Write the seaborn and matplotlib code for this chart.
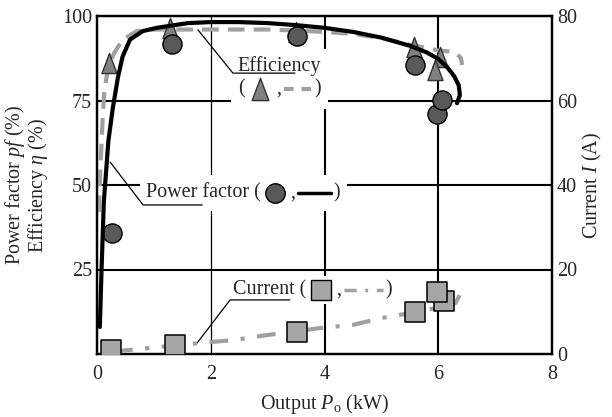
import matplotlib
matplotlib.use("Agg")
import matplotlib.pyplot as plt
import seaborn as sns
from matplotlib.path import Path
from matplotlib.lines import Line2D
from matplotlib.offsetbox import TextArea, DrawingArea, HPacker, VPacker, AnnotationBbox

# ---------------- data ----------------
# measured points
eff_x = [0.21, 1.28, 3.50, 5.57, 6.03, 5.94]
eff_y = [86.0, 96.4, 95.3, 90.8, 87.9, 84.0]
pf_x = [0.27, 1.32, 3.51, 5.59, 5.97, 6.06]
pf_y = [35.8, 91.7, 94.1, 85.5, 71.0, 75.1]
cur_x = [0.25, 1.37, 3.51, 5.59, 6.10, 5.97]
cur_y = [0.9, 2.1, 5.2, 9.9, 12.5, 14.7]

# calculated curves
pf_curve_x = [0.05, 0.08, 0.12, 0.2, 0.28, 0.37, 0.45, 0.58, 0.8, 1.05, 1.6, 2.0, 2.5,
              3.0, 3.5, 4.0, 4.5, 5.0, 5.5, 5.8, 6.0, 6.15, 6.28, 6.36, 6.38, 6.33]
pf_curve_y = [8, 25, 45, 63, 73, 82, 88, 93, 95.5, 96.5, 97.9, 98.2, 98.2,
              97.9, 97.3, 96.5, 95.3, 93.6, 91.2, 89.2, 87.3, 85.0, 82.2, 79.5, 76.6, 74.2]
eff_curve_x = [0.03, 0.06, 0.1, 0.13, 0.2, 0.3, 0.45, 0.7, 1.0, 1.5, 2.0, 3.0, 3.5, 4.0,
               4.5, 5.0, 5.5, 5.8, 6.0, 6.2, 6.33, 6.4, 6.42]
eff_curve_y = [42, 55, 70, 78, 85, 89, 93, 95.5, 96, 96, 96, 96, 95.7, 95.3,
               94.7, 93.5, 91.5, 90.5, 89.8, 89.5, 88.8, 87.5, 85.5]
cur_curve_x = [0.3, 0.9, 1.8, 2.4, 3.0, 3.9, 4.5, 5.0, 5.6, 6.0, 6.3, 6.36, 6.42]
cur_curve_y = [0.6, 1.4, 2.6, 3.3, 4.5, 6.1, 6.9, 8.5, 9.9, 11.0, 12.0, 13.5, 15.8]

x_ticks = [0, 2, 4, 6, 8]
left_ticks = [25, 50, 75, 100]
right_ticks = [0, 20, 40, 60, 80]

xlabel = "Output $P_\\mathrm{o}$ (kW)"
ylabel_left = "Power factor $pf$ (%)\nEfficiency $\\eta$ (%)"
ylabel_right = "Current $I$ (A)"

# ---------------- style ----------------
sns.set_style("white")
SERIF = ["Liberation Serif", "Times New Roman", "Nimbus Roman", "DejaVu Serif"]
plt.rcParams["font.family"] = "serif"
plt.rcParams["font.serif"] = SERIF
plt.rcParams["mathtext.fontset"] = "custom"
plt.rcParams["mathtext.rm"] = "Liberation Serif"
plt.rcParams["mathtext.it"] = "Liberation Serif:italic"
plt.rcParams["mathtext.bf"] = "Liberation Serif:bold"
FS = 14.5

C_DASH = "#a0a0a0"
C_TRI = "#808080"
C_CIRC = "#595959"
C_SQ = "#a6a6a6"

tri = Path([(0, 1), (-0.75, -1), (0.75, -1), (0, 1)],
           [Path.MOVETO, Path.LINETO, Path.LINETO, Path.CLOSEPOLY])

fig = plt.figure(figsize=(6.12, 4.17), dpi=100)
ax = fig.add_subplot(111)
fig.subplots_adjust(left=97 / 612, right=552 / 612, bottom=(417 - 354) / 417, top=(417 - 16) / 417)
ax2 = ax.twinx()

# curves
sns.lineplot(x=eff_curve_x, y=eff_curve_y, ax=ax, sort=False, estimator=None,
             color=C_DASH, linewidth=3.0, dashes=(4, 2.2), zorder=3)
sns.lineplot(x=pf_curve_x, y=pf_curve_y, ax=ax, sort=False, estimator=None,
             color="black", linewidth=3.0, zorder=6)
# markers
sns.scatterplot(x=eff_x, y=eff_y, ax=ax, marker=tri, s=210, color=C_TRI,
                edgecolor="#333333", linewidth=1.0, zorder=4)
sns.scatterplot(x=pf_x, y=pf_y, ax=ax, marker="o", s=190, color=C_CIRC,
                edgecolor="black", linewidth=1.0, zorder=5)

sns.lineplot(x=cur_curve_x, y=cur_curve_y, ax=ax2, sort=False, estimator=None,
             color=C_DASH, linewidth=3.0, dashes=(4.5, 3, 1, 3), zorder=3)
sns.scatterplot(x=cur_x, y=cur_y, ax=ax2, marker="s", s=195, color=C_SQ,
                edgecolor="black", linewidth=1.1, zorder=5)

# axes
ax.set_xlim(0, 8)
ax.set_ylim(0, 100)
ax2.set_ylim(0, 80)
ax.set_xticks(x_ticks)
ax.set_yticks(left_ticks)
ax2.set_yticks(right_ticks)
ax.set_xticklabels([str(t) for t in x_ticks], fontsize=FS, family=SERIF)
ax.set_yticklabels([str(t) for t in left_ticks], fontsize=FS, family=SERIF)
ax2.set_yticklabels([str(t) for t in right_ticks], fontsize=FS, family=SERIF)
ax.tick_params(axis="x", length=0, pad=8)
ax.tick_params(axis="y", length=0, pad=3.5)
ax2.tick_params(axis="y", length=0, pad=3.5)

ax.set_axisbelow(True)
ax.grid(True, color="black", linewidth=1.5)
gl = ax.get_xgridlines()
gl[1].set_linewidth(0.9)
ax2.grid(False)
for a in (ax, ax2):
    for sp in a.spines.values():
        sp.set_visible(True)
        sp.set_color("black")
        sp.set_linewidth(1.6)

ax.set_xlabel(xlabel, fontsize=FS, labelpad=6, family=SERIF)
ax.set_ylabel(ylabel_left, fontsize=FS, labelpad=9, linespacing=0.9, family=SERIF)
ax2.set_ylabel(ylabel_right, fontsize=FS, labelpad=3, family=SERIF)

# ---------------- annotation labels (legend-like) ----------------
tp = dict(fontsize=FS, family=SERIF)


def ta(s):
    return TextArea(s, textprops=tp)


def marker_key(marker, face, size, edge="black"):
    w = size + 3
    da = DrawingArea(w, w, 0, 0)
    da.add_artist(Line2D([w / 2], [w / 2], marker=marker, markersize=size,
                         markerfacecolor=face, markeredgecolor=edge,
                         markeredgewidth=1.0, linestyle="none"))
    return da


def line_key(width, **kw):
    da = DrawingArea(width, 10, 0, 0)
    da.add_artist(Line2D([0, width], [5, 5], **kw))
    return da


def place(box, x, y, pad):
    ab = AnnotationBbox(box, (x, y), xycoords="data", box_alignment=(0.5, 0.5),
                        frameon=True, pad=pad,
                        bboxprops=dict(facecolor="white", edgecolor="none"))
    ab.set_zorder(1.5)
    ax.add_artist(ab)


# Efficiency
eff_row = HPacker(children=[ta("("), marker_key(tri, C_TRI, 16, "#333333"), ta(","),
                            line_key(20, color=C_DASH, lw=3.0, dashes=(2.3, 1.9)), ta(")")],
                  align="center", pad=0, sep=2)
eff_box = VPacker(children=[ta("Efficiency"), eff_row], align="left", pad=0, sep=0)
place(eff_box, 3.21, 81.3, 0.5)
ax.plot([1.775, 2.39, 3.48], [95.9, 83.1, 83.1], color="black", lw=0.9, zorder=2)

# Power factor
pf_row = HPacker(children=[ta("Power factor ("), marker_key("o", C_CIRC, 14), ta(","),
                           line_key(24, color="black", lw=2.5), ta(")")],
                 align="center", pad=0, sep=2)
place(pf_row, 2.57, 47.6, 0.45)
ax.plot([0.23, 0.81, 1.85], [56.8, 44.1, 44.1], color="black", lw=0.9, zorder=2)

# Current
cur_row = HPacker(children=[ta("Current ("), marker_key("s", C_SQ, 14.5), ta(","),
                            line_key(28, color=C_DASH, lw=2.5, dashes=(3.5, 2.5, 0.8, 2.5)), ta(")")],
                  align="center", pad=0, sep=2)
place(cur_row, 3.79, 18.9, 0.15)
ax.plot([1.76, 2.34, 3.39], [3.25, 16.0, 16.0], color="black", lw=0.9, zorder=2)

fig.savefig("out.png", dpi=100)
